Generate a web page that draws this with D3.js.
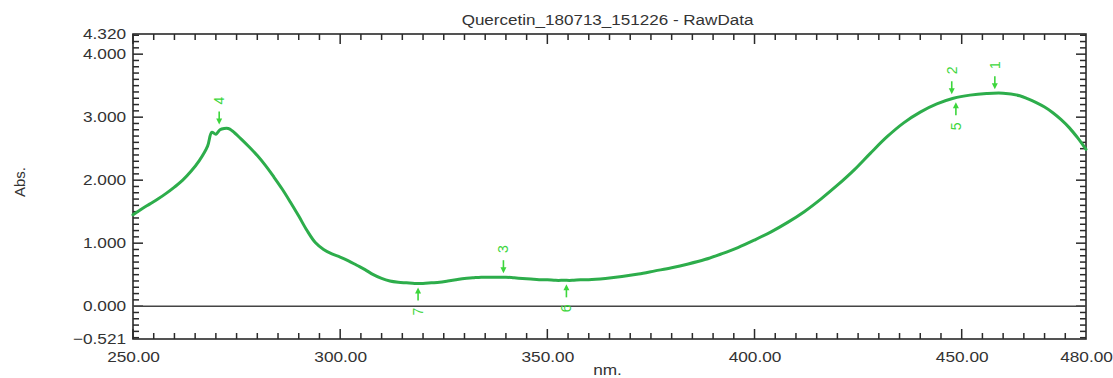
<!DOCTYPE html>
<html>
<head>
<meta charset="utf-8">
<script src="https://cdn.jsdelivr.net/npm/d3@7"></script>
<style>
  html, body { margin: 0; padding: 0; background: #fff; }
  svg { display: block; }
  text { font-family: "Liberation Sans", Arial, sans-serif; fill: #333; }
</style>
</head>
<body>
<svg id="chart" width="1113" height="378"></svg>
<script>
// ---- data ----
const title = "Quercetin_180713_151226 - RawData";
const xLabel = "nm.";
const yLabel = "Abs.";

const wavelengths = [250,252,254,256,258,260,262,264,266,268,269,270,271,272,273,274,276,278,280,282,284,286,288,290,292,294,296,298,300,302,304,306,308,310,312,314,316,318,320,322,324,326,328,330,332,334,336,338,340,342,344,346,348,350,352,354,356,358,360,364,368,372,376,380,384,388,392,396,400,404,408,412,416,420,424,428,432,436,440,444,448,452,456,460,464,466,468,470,472,474,476,478,480];
const absorbance  = [1.45,1.54,1.62,1.70,1.79,1.89,2.00,2.14,2.31,2.54,2.76,2.73,2.80,2.82,2.82,2.78,2.66,2.53,2.39,2.23,2.05,1.86,1.65,1.43,1.20,1.01,0.90,0.83,0.78,0.72,0.65,0.58,0.50,0.44,0.40,0.38,0.37,0.36,0.36,0.37,0.38,0.40,0.42,0.44,0.45,0.46,0.46,0.46,0.46,0.45,0.44,0.43,0.42,0.42,0.41,0.41,0.41,0.42,0.42,0.44,0.47,0.51,0.56,0.61,0.67,0.74,0.83,0.93,1.05,1.18,1.33,1.50,1.70,1.92,2.16,2.43,2.69,2.91,3.08,3.21,3.30,3.35,3.375,3.38,3.34,3.29,3.23,3.16,3.07,2.96,2.83,2.67,2.49];

const markerLabels = ["1","2","3","4","5","6","7"];
const markerNm     = [458, 447.6, 339.4, 270.8, 448.6, 354.6, 318.8];
const markerAbs    = [3.38, 3.30, 0.46, 2.82, 3.30, 0.41, 0.36];
const markerType   = ["peak","peak","peak","peak","valley","valley","valley"];

const xTickLabels = [250, 300, 350, 400, 450, 480];
const xMajorTicks = [250, 300, 350, 400, 450];
const yTickLabels = [-0.521, 0, 1, 2, 3, 4, 4.32];
const yMajorTicks = [0, 1, 2, 3, 4];

// ---- layout ----
const L = 133, R = 1086, T = 34, B = 339;
const svg = d3.select("#chart");

const x = d3.scaleLinear().domain([250, 480]).range([L, R]);
const y = d3.scaleLinear().domain([-0.521, 4.32]).range([B, T]);

const xMinor = d3.range(255, 480, 5).filter(v => v % 50 !== 0);
const yMinor = d3.range(-5, 44).map(i => i / 10).filter(v => Math.abs(v - Math.round(v)) > 1e-6);

const axisColor = "#2a2a2a";
const sx = 1.15; // horizontal stretch of the reference lettering

// frame
svg.append("rect").attr("x", L).attr("y", T).attr("width", R - L).attr("height", B - T)
  .attr("fill", "none").attr("stroke", axisColor).attr("stroke-width", 1.6);

// inward tick marks on all four sides
const tickG = svg.append("g");
function addTick(x1, y1, x2, y2) {
  tickG.append("line")
    .attr("x1", x1).attr("y1", y1).attr("x2", x2).attr("y2", y2)
    .attr("stroke", axisColor).attr("stroke-width", 1.5);
}
function xTicks(vals, len) {
  vals.forEach(d => {
    const px = x(d);
    addTick(px, B, px, B - len);
    addTick(px, T, px, T + len);
  });
}
function yTicks(vals, len) {
  vals.forEach(d => {
    const py = y(d);
    addTick(L, py, L + len, py);
    addTick(R, py, R - len, py);
  });
}
xTicks(xMinor, 6);
xTicks(xMajorTicks, 10);
yTicks(yMinor, 6);
yTicks(yMajorTicks, 10);

// tick labels via d3 axes
const gxl = svg.append("g").attr("transform", `translate(0,${B})`)
  .call(d3.axisBottom(x).tickValues(xTickLabels).tickSize(0).tickPadding(12).tickFormat(d3.format(".2f")));
gxl.select(".domain").remove();
gxl.selectAll("text").attr("font-size", 15).attr("fill", "#333")
  .attr("font-family", "Liberation Sans, Arial, sans-serif")
  .attr("transform", `scale(${sx},1)`);

const gyl = svg.append("g").attr("transform", `translate(${L},0)`)
  .call(d3.axisLeft(y).tickValues(yTickLabels).tickSize(0).tickPadding(6).tickFormat(d3.format(".3f")));
gyl.select(".domain").remove();
gyl.selectAll("text").attr("font-size", 15).attr("fill", "#333")
  .attr("font-family", "Liberation Sans, Arial, sans-serif")
  .attr("transform", `scale(${sx},1)`);

// zero line
svg.append("line").attr("x1", L).attr("x2", R).attr("y1", y(0)).attr("y2", y(0))
  .attr("stroke", "#444").attr("stroke-width", 1.6);

// curve
const line = d3.line().x((d, i) => x(wavelengths[i])).y(d => y(d)).curve(d3.curveCatmullRom.alpha(0.5));
svg.append("path").datum(absorbance)
  .attr("d", line)
  .attr("fill", "none").attr("stroke", "#2dad4b").attr("stroke-width", 3)
  .attr("stroke-linejoin", "round").attr("stroke-linecap", "round");

// peak / valley markers
const mColor = "#3cd63c";
const mg = svg.append("g");
markerLabels.forEach((lab, i) => {
  const mx = x(markerNm[i]);
  const my = y(markerAbs[i]);
  const dir = markerType[i] === "peak" ? -1 : 1;
  const tip = my + dir * 4;
  const tail = my + dir * 17;
  mg.append("line").attr("x1", mx).attr("x2", mx).attr("y1", tail).attr("y2", tip + dir * 3)
    .attr("stroke", mColor).attr("stroke-width", 1.6);
  mg.append("path")
    .attr("d", `M${mx},${tip} L${mx - 3},${tip + dir * 6} L${mx + 3},${tip + dir * 6} Z`)
    .attr("fill", mColor);
  const ly = my + dir * 28;
  mg.append("text")
    .attr("transform", `translate(${mx},${ly}) rotate(-90)`)
    .attr("text-anchor", "middle").attr("dy", "0.35em")
    .attr("font-size", 14).style("fill", mColor)
    .text(lab);
});

// title and axis titles
svg.append("text").attr("transform", `translate(${(L + R) / 2 - 2},25) scale(1.1,1)`)
  .attr("text-anchor", "middle").attr("font-size", 15.5).text(title);
svg.append("text").attr("transform", `translate(${(L + R) / 2 - 2},375) scale(${sx},1)`)
  .attr("text-anchor", "middle").attr("font-size", 15).text(xLabel);
svg.append("text").attr("transform", `translate(25,182) rotate(-90)`)
  .attr("text-anchor", "middle").attr("font-size", 15).text(yLabel);
</script>
</body>
</html>
